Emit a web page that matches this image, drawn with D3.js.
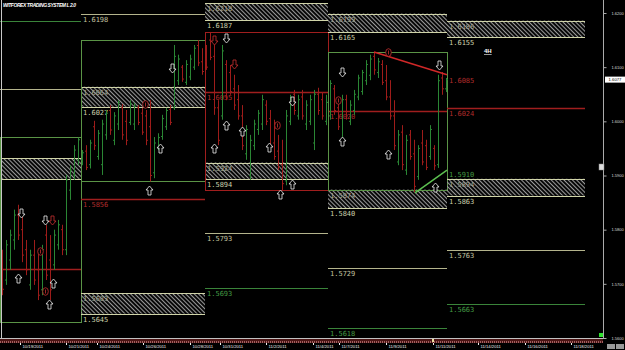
<!DOCTYPE html>
<html>
<meta charset="utf-8">
<style>
    body { margin: 0; background: #000; }
    svg { display: block; background: #000; }
    .lvl { font-family: "DejaVu Sans Mono", monospace; font-size: 7px; }
    .title { font-family: "Liberation Sans", Arial, sans-serif; font-size: 5px; font-weight: bold; font-style: italic; fill: #fff; }
    .paxis text { font-family: "Liberation Sans", Arial, sans-serif; font-size: 4px; fill: #ddd; }
    .paxis line, .paxis path { stroke: #aaa; }
    .daxis text { font-family: "Liberation Sans", Arial, sans-serif; font-size: 4.2px; fill: #eee; text-anchor: start; }
    .daxis line { stroke: #eee; }
    .arrow { fill: #000; stroke: #eee; stroke-width: 0.8; }
    .arrow.red { stroke: #c83030; }
</style>

<body>
    <script src="https://d3js.org/d3.v7.min.js"></script>
    <script>

        var width = 625,
            height = 350;

        // 4H bars: [open, high, low, close], 10/19/2011 .. 11/11/2011
        var ohlc = [
            [1.5753, 1.5763, 1.5679, 1.5690], [1.5707, 1.5781, 1.5698, 1.5772], [1.5744, 1.5800, 1.5726, 1.5790],
            [1.5781, 1.5837, 1.5763, 1.5827], [1.5827, 1.5846, 1.5781, 1.5790], [1.5800, 1.5827, 1.5740, 1.5753],
            [1.5763, 1.5781, 1.5716, 1.5726], [1.5698, 1.5763, 1.5689, 1.5753], [1.5753, 1.5781, 1.5698, 1.5707],
            [1.5726, 1.5763, 1.5670, 1.5679], [1.5689, 1.5772, 1.5679, 1.5763], [1.5790, 1.5809, 1.5707, 1.5716],
            [1.5744, 1.5790, 1.5670, 1.5689], [1.5735, 1.5800, 1.5726, 1.5790], [1.5772, 1.5818, 1.5763, 1.5809],
            [1.5800, 1.5809, 1.5753, 1.5763], [1.5763, 1.5901, 1.5753, 1.5892], [1.5873, 1.5919, 1.5855, 1.5910],
            [1.5901, 1.5956, 1.5892, 1.5947], [1.5929, 1.5970, 1.5919, 1.5966],
            [1.5929, 1.5947, 1.5919, 1.5942], [1.5945, 1.5956, 1.5910, 1.5915], [1.5920, 1.5966, 1.5913, 1.5960],
            [1.5990, 1.6001, 1.5947, 1.5955], [1.5935, 1.5984, 1.5929, 1.5978], [1.5920, 1.6003, 1.5901, 1.5995],
            [1.5975, 1.6021, 1.5966, 1.6015], [1.6020, 1.6030, 1.5975, 1.5984], [1.5965, 1.6017, 1.5956, 1.6010],
            [1.5995, 1.6039, 1.5984, 1.6035], [1.6025, 1.6032, 1.5966, 1.5975], [1.6000, 1.6021, 1.5956, 1.5965],
            [1.5998, 1.6039, 1.5993, 1.6032], [1.5995, 1.6034, 1.5984, 1.6028], [1.6025, 1.6030, 1.5993, 1.5998],
            [1.6015, 1.6025, 1.5975, 1.5980], [1.6010, 1.6021, 1.5956, 1.5965], [1.5990, 1.6039, 1.5889, 1.5900],
            [1.5905, 1.5971, 1.5895, 1.5960], [1.5952, 1.5978, 1.5947, 1.5970], [1.5972, 1.6012, 1.5966, 1.6005],
            [1.5990, 1.6025, 1.5984, 1.6020], [1.6022, 1.6030, 1.5993, 1.5998], [1.6025, 1.6141, 1.6021, 1.6120],
            [1.6075, 1.6123, 1.6067, 1.6115], [1.6100, 1.6104, 1.6073, 1.6078], [1.6072, 1.6113, 1.6067, 1.6105],
            [1.6082, 1.6123, 1.6076, 1.6115], [1.6100, 1.6141, 1.6095, 1.6135], [1.6140, 1.6150, 1.6102, 1.6108],
            [1.6110, 1.6135, 1.6086, 1.6092],
            [1.6110, 1.6141, 1.6095, 1.6100], [1.6150, 1.6165, 1.6113, 1.6118], [1.6120, 1.6141, 1.6012, 1.6025],
            [1.6025, 1.6039, 1.5956, 1.5965], [1.6010, 1.6141, 1.6003, 1.6130], [1.6105, 1.6113, 1.6039, 1.6045],
            [1.6090, 1.6104, 1.6049, 1.6055], [1.6060, 1.6086, 1.6021, 1.6030], [1.6040, 1.6067, 1.6003, 1.6010],
            [1.6010, 1.6030, 1.5947, 1.5955], [1.5940, 1.5993, 1.5929, 1.5985], [1.5900, 1.5975, 1.5892, 1.5965],
            [1.5955, 1.6003, 1.5947, 1.5995], [1.5985, 1.6021, 1.5975, 1.6015], [1.5995, 1.6049, 1.5984, 1.6040],
            [1.6030, 1.6039, 1.5993, 1.6000], [1.6005, 1.6021, 1.5947, 1.5955], [1.5960, 1.6003, 1.5929, 1.5935],
            [1.5945, 1.5975, 1.5910, 1.5915], [1.5920, 1.5966, 1.5873, 1.5885], [1.5890, 1.6021, 1.5882, 1.6010],
            [1.6000, 1.6049, 1.5993, 1.6040], [1.6050, 1.6058, 1.6012, 1.6020], [1.6010, 1.6049, 1.6003, 1.6040],
            [1.6045, 1.6058, 1.6003, 1.6010], [1.5995, 1.6039, 1.5984, 1.6030], [1.6000, 1.6049, 1.5993, 1.6040],
            [1.5960, 1.6058, 1.5947, 1.6050], [1.6050, 1.6062, 1.6012, 1.6020], [1.6040, 1.6054, 1.6003, 1.6010],
            [1.6000, 1.6049, 1.5993, 1.6035],
            [1.6010, 1.6076, 1.6003, 1.6070], [1.6060, 1.6067, 1.6012, 1.6020], [1.6025, 1.6039, 1.5984, 1.5990],
            [1.5965, 1.6049, 1.5956, 1.6040], [1.6040, 1.6049, 1.6003, 1.6010], [1.6000, 1.6039, 1.5993, 1.6030],
            [1.6020, 1.6058, 1.6012, 1.6050], [1.6045, 1.6086, 1.6039, 1.6080], [1.6055, 1.6095, 1.6049, 1.6090],
            [1.6075, 1.6113, 1.6067, 1.6105], [1.6085, 1.6123, 1.6076, 1.6115], [1.6120, 1.6128, 1.6086, 1.6095],
            [1.6090, 1.6117, 1.6080, 1.6110], [1.6105, 1.6113, 1.6067, 1.6072], [1.6075, 1.6104, 1.6039, 1.6045],
            [1.6045, 1.6076, 1.6003, 1.6010], [1.6010, 1.6039, 1.5947, 1.5955], [1.5925, 1.5984, 1.5919, 1.5975],
            [1.5980, 1.5993, 1.5910, 1.5920], [1.5910, 1.5975, 1.5901, 1.5965], [1.5975, 1.5984, 1.5929, 1.5935],
            [1.5940, 1.5966, 1.5869, 1.5880], [1.5898, 1.5956, 1.5892, 1.5950], [1.5960, 1.5984, 1.5919, 1.5925],
            [1.5955, 1.5966, 1.5910, 1.5915], [1.5935, 1.5993, 1.5929, 1.5985], [1.5950, 1.5956, 1.5910, 1.5918],
            [1.5920, 1.6086, 1.5914, 1.6075], [1.6080, 1.6091, 1.6049, 1.6060], [1.6060, 1.6080, 1.6054, 1.6077]
        ];

        // week boundaries in bar units
        var weekEdges = [-0.5, 19.75, 50.75, 81.5, 111.25, 145.75];
        // weekly range boxes [high, low, colour]
        var weekBoxes = [[1.5971, 1.5630, "g"], [1.6150, 1.5890, "g"], [1.6165, 1.5873, "r"], [1.6128, 1.5873, "g"], null];
        var upperZones = [null, [1.6064, 1.6027], [1.6218, 1.6187], [1.6199, 1.6165], [1.6186, 1.6155]];
        var lowerZones = [[1.5932, 1.5894], [1.5683, 1.5645], [1.5924, 1.5894], [1.5874, 1.5840], [1.5894, 1.5863]];
        var pivots = [1.5728, 1.5856, 1.6055, 1.6020, 1.6024];
        // [week, price, kind]
        var extraLines = [
            [0, 1.6185, "g"], [0, 1.6060, "o"], [1, 1.6198, "o"],
            [2, 1.5793, "o"], [2, 1.5693, "g"], [3, 1.5729, "o"], [3, 1.5618, "g"],
            [4, 1.5763, "o"], [4, 1.5663, "g"]
        ];

        var redTrend = [[93, 1.6128], [111.25, 1.6086]];
        var greenTrend = [[103.25, 1.5868], [111.25, 1.5910]];
        var trendLabels = ["1.6085", "1.5910"];

        // [bar, price, type]  u = up arrow, d = down arrow, rd = red down, rc = red mark
        var signals = [
            [4.75, 1.5831, "d"], [10.75, 1.5817, "d"], [12.5, 1.5817, "rd"], [4, 1.5711, "u"],
            [12.75, 1.5702, "u"], [10.75, 1.5687, "rc"], [11.75, 1.5663, "u"], [9.5, 1.5761, "rc"],
            [39.5, 1.5951, "u"], [36.75, 1.5873, "u"], [42.5, 1.6099, "d"], [35.75, 1.6032, "rc"],
            [56, 1.6154, "d"], [53, 1.6150, "rd"], [58, 1.6106, "rd"], [72.5, 1.6038, "d"],
            [85, 1.6091, "d"], [84, 1.6039, "rc"], [96.5, 1.6128, "rc"], [109.25, 1.6104, "d"],
            [56, 1.5993, "u"], [60, 1.5982, "u"], [68.75, 1.5993, "rc"], [53, 1.5951, "u"],
            [66.75, 1.5953, "u"], [72.5, 1.5884, "u"], [69.5, 1.5866, "u"], [85, 1.5964, "u"],
            [96.5, 1.5940, "u"], [108.25, 1.5879, "u"]
        ];

        var priceTicks = [1.56, 1.57, 1.58, 1.59, 1.60, 1.61, 1.62];
        var dateTicks = [4.5, 16, 23.75, 35.25, 47, 54.5, 66, 77.75, 84.25, 96, 107.75, 119, 130.75, 142.25];
        var dateLabels = ["10/19/2011", "10/21/2011", "10/24/2011", "10/26/2011", "10/28/2011", "10/31/2011",
            "11/2/2011", "11/4/2011", "11/7/2011", "11/9/2011", "11/11/2011", "11/14/2011", "11/16/2011", "11/18/2011"];
        var lastPrice = 1.6077;

        var x = d3.scaleLinear().domain([0, 150]).range([2, 602]);
        var y = d3.scaleLinear().domain([1.56, 1.62]).range([338, 13]);
        var fmt = d3.format(".4f");

        var colors = { g: "#3a843a", o: "#b4b48c", r: "#a01e1e", box: "#5a9446", zoneEdge: "#d0d4a8",
                       up: "#2a8634", down: "#9e1c1a", redLabel: "#b02c2c", greenLabel: "#449a44" };

        var svg = d3.select("body").append("svg")
            .attr("width", width)
            .attr("height", height);

        var defs = svg.append("defs");
        defs.append("pattern")
            .attr("id", "hatch")
            .attr("patternUnits", "userSpaceOnUse")
            .attr("width", 3).attr("height", 3)
            .attr("patternTransform", "rotate(-45)")
            .append("line")
            .attr("x1", 1.5).attr("y1", 0).attr("x2", 1.5).attr("y2", 3)
            .attr("stroke", "#9a9a9a").attr("stroke-width", 1.1);
        var band = defs.append("pattern")
            .attr("id", "band")
            .attr("patternUnits", "userSpaceOnUse")
            .attr("width", 2).attr("height", 4);
        band.append("rect").attr("width", 2).attr("height", 4).attr("fill", "#4a1414");
        band.append("rect").attr("x", 0).attr("y", 1).attr("width", 1).attr("height", 2).attr("fill", "#a06060");

        svg.append("text").attr("class", "title")
            .attr("x", 3).attr("y", 7)
            .attr("textLength", 73)
            .text("WITFOREX TRADING SYSTEM L 2.0");

        var levels = svg.append("g");

        function label(x0, p, color, txt) {
            levels.append("text").attr("class", "lvl")
                .attr("x", x0 + 2).attr("y", y(p) + 8)
                .attr("fill", color)
                .text(txt || fmt(p));
        }

        function hline(x0, x1, p, color, w) {
            levels.append("line")
                .attr("x1", x0).attr("x2", x1)
                .attr("y1", Math.round(y(p)) + 0.5).attr("y2", Math.round(y(p)) + 0.5)
                .attr("stroke", color).attr("stroke-width", w || 1);
        }

        function zone(x0, x1, z, show) {
            if (!z) return;
            if (show) label(x0, z[0], "#a8ac88");
            levels.append("rect")
                .attr("x", x0).attr("width", x1 - x0)
                .attr("y", y(z[0])).attr("height", y(z[1]) - y(z[0]))
                .attr("fill", "url(#hatch)");
            hline(x0, x1, z[0], colors.zoneEdge);
            hline(x0, x1, z[1], colors.zoneEdge);
            if (show) label(x0, z[1], "#ccd0ac");
        }

        weekEdges.slice(0, -1).forEach(function (e, w) {
            var x0 = Math.max(0, x(e)), x1 = x(weekEdges[w + 1]);
            var show = w > 0;
            zone(x0, x1, upperZones[w], show);
            zone(x0, x1, lowerZones[w], show);
            hline(x0, x1, pivots[w], colors.r, 1.3);
            if (show) label(x0, pivots[w], colors.redLabel);
            var b = weekBoxes[w];
            if (b) {
                levels.append("rect")
                    .attr("x", Math.round(x0) + 0.5).attr("width", Math.round(x1 - x0))
                    .attr("y", Math.round(y(b[0])) + 0.5).attr("height", Math.round(y(b[1]) - y(b[0])))
                    .attr("fill", "none")
                    .attr("stroke", b[2] === "r" ? colors.r : colors.box)
                    .attr("stroke-width", 1);
            }
        });

        extraLines.forEach(function (d) {
            var x0 = Math.max(0, x(weekEdges[d[0]])), x1 = x(weekEdges[d[0] + 1]);
            hline(x0, x1, d[1], colors[d[2]]);
            if (d[0] > 0) label(x0, d[1], d[2] === "g" ? colors.greenLabel : "#c4c4a0");
        });

        // OHLC bars
        var bars = svg.append("g").selectAll("g")
            .data(ohlc)
            .enter().append("g")
            .attr("stroke", function (d) { return d[3] >= d[0] ? colors.up : colors.down; })
            .attr("stroke-width", 1);
        bars.append("line")
            .attr("x1", function (d, i) { return Math.round(x(i)) + 0.5; })
            .attr("x2", function (d, i) { return Math.round(x(i)) + 0.5; })
            .attr("y1", function (d) { return y(d[1]); })
            .attr("y2", function (d) { return y(d[2]); });
        bars.append("line")
            .attr("x1", function (d, i) { return Math.round(x(i)) - 1; })
            .attr("x2", function (d, i) { return Math.round(x(i)) + 0.5; })
            .attr("y1", function (d) { return y(d[0]); })
            .attr("y2", function (d) { return y(d[0]); });
        bars.append("line")
            .attr("x1", function (d, i) { return Math.round(x(i)) + 0.5; })
            .attr("x2", function (d, i) { return Math.round(x(i)) + 2; })
            .attr("y1", function (d) { return y(d[3]); })
            .attr("y2", function (d) { return y(d[3]); });

        // trend lines
        var tl = d3.line().x(function (d) { return x(d[0]); }).y(function (d) { return y(d[1]); });
        svg.append("path").datum(redTrend).attr("d", tl)
            .attr("stroke", "#d02828").attr("stroke-width", 1.5).attr("fill", "none");
        svg.append("path").datum(greenTrend).attr("d", tl)
            .attr("stroke", "#5cc050").attr("stroke-width", 1.5).attr("fill", "none");
        svg.append("text").attr("class", "lvl")
            .attr("x", x(redTrend[1][0]) + 2).attr("y", y(redTrend[1][1]) + 8)
            .attr("fill", colors.redLabel).text(trendLabels[0]);
        svg.append("text").attr("class", "lvl")
            .attr("x", x(greenTrend[1][0]) + 2).attr("y", y(greenTrend[1][1]) + 7)
            .attr("fill", colors.greenLabel).text(trendLabels[1]);

        // signal arrows
        function arrowPath(cx, cy, dir) {
            var s = dir;  // 1 = up, -1 = down
            return "M" + cx + "," + (cy - 4.5 * s) +
                "L" + (cx + 3.5) + "," + (cy - 0.5 * s) +
                "L" + (cx + 1.5) + "," + (cy - 0.5 * s) +
                "L" + (cx + 1.5) + "," + (cy + 4.5 * s) +
                "L" + (cx - 1.5) + "," + (cy + 4.5 * s) +
                "L" + (cx - 1.5) + "," + (cy - 0.5 * s) +
                "L" + (cx - 3.5) + "," + (cy - 0.5 * s) + "Z";
        }
        var sig = svg.append("g");
        signals.forEach(function (d) {
            var cx = Math.round(x(d[0])) + 0.5, cy = Math.round(y(d[1])) + 0.5;
            if (d[2] === "rc") {
                sig.append("ellipse").attr("cx", cx).attr("cy", cy).attr("rx", 2.8).attr("ry", 3.8)
                    .attr("fill", "#000").attr("stroke", "#c83030").attr("stroke-width", 0.8);
                sig.append("line").attr("x1", cx).attr("x2", cx).attr("y1", cy - 2).attr("y2", cy + 2)
                    .attr("stroke", "#c83030").attr("stroke-width", 0.8);
            } else {
                sig.append("path")
                    .attr("class", d[2] === "rd" ? "arrow red" : "arrow")
                    .attr("d", arrowPath(cx, cy, d[2] === "u" ? 1 : -1));
            }
        });

        svg.append("text")
            .attr("x", 484).attr("y", 53)
            .attr("font-family", "Liberation Sans, Arial, sans-serif")
            .attr("font-size", 6).attr("font-weight", "bold")
            .attr("fill", "#fff").attr("text-decoration", "underline")
            .text("4H");

        // frame, time band and axes
        svg.append("line").attr("x1", 1.5).attr("x2", 1.5).attr("y1", 0).attr("y2", 339)
            .attr("stroke", "#c8c8c8");
        svg.append("line").attr("x1", 0).attr("x2", 603).attr("y1", 338.5).attr("y2", 338.5)
            .attr("stroke", "#c0c0c0");
        svg.append("rect").attr("x", 0).attr("y", 339).attr("width", 603).attr("height", 4)
            .attr("fill", "url(#band)");
        svg.append("rect").attr("x", x(107.75) - 1).attr("y", 339).attr("width", 2).attr("height", 3)
            .attr("fill", "#f0e0a0");

        svg.append("g").attr("class", "paxis")
            .attr("transform", "translate(603.5,0)")
            .call(d3.axisRight(y).tickValues(priceTicks).tickFormat(fmt).tickSize(3).tickPadding(5))
            .call(function (g) { g.select(".domain").attr("d", "M0,0V339"); });

        svg.append("g").attr("class", "daxis")
            .attr("transform", "translate(0,343)")
            .call(d3.axisBottom(x).tickValues(dateTicks)
                .tickFormat(function (d, i) { return dateLabels[i]; }).tickSize(2).tickPadding(1))
            .call(function (g) {
                g.select(".domain").remove();
                g.selectAll("text").attr("dx", 2).attr("dy", "0.5em");
            });

        // last price tag
        var tag = svg.append("g").attr("transform", "translate(605," + y(lastPrice) + ")");
        tag.append("rect").attr("x", 0).attr("y", -3).attr("width", 20).attr("height", 6).attr("fill", "#fff");
        tag.append("text").attr("x", 10).attr("y", 1.5).attr("text-anchor", "middle")
            .attr("font-family", "Liberation Sans, Arial, sans-serif").attr("font-size", 4.2)
            .attr("fill", "#000").text(fmt(lastPrice));

        svg.append("rect").attr("x", 599).attr("y", 164).attr("width", 5).attr("height", 6)
            .attr("fill", "#ddd").attr("stroke", "#888").attr("stroke-width", 0.5);
        svg.append("rect").attr("x", 599).attr("y", 333).attr("width", 4).attr("height", 4).attr("fill", "#30e030");
        svg.append("rect").attr("x", 607).attr("y", 344).attr("width", 8).attr("height", 5).attr("fill", "#999");
        svg.append("rect").attr("x", 616).attr("y", 344).attr("width", 8).attr("height", 5).attr("fill", "#999");

    </script>

</body>
</html>
